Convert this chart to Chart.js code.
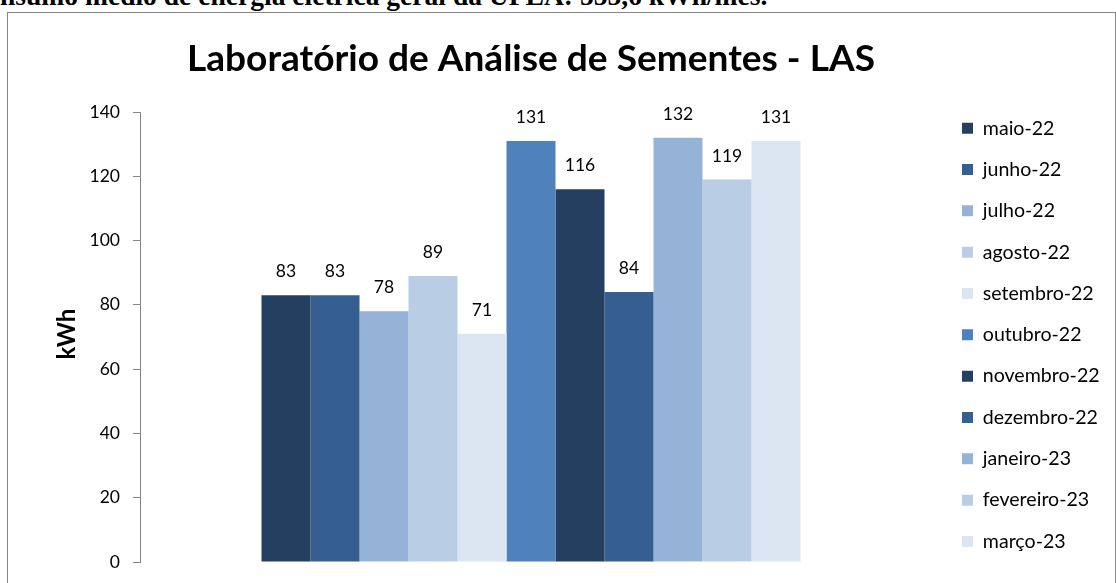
<!DOCTYPE html>
<html>
<head>
<meta charset="utf-8">
<script src="https://cdn.jsdelivr.net/npm/chart.js@4.4.0/dist/chart.umd.min.js"></script>
<style>
  html, body { margin: 0; padding: 0; background: #fff; overflow: hidden; }
  body { width: 1116px; height: 583px; position: relative; }
  #topline { position: absolute; left: 0; top: -18px; white-space: nowrap; line-height: 1; color: #000;
             font-weight: bold; font-family: "Liberation Serif", "Times New Roman", serif; font-size: 27px; }
  #frame { position: absolute; left: 7px; top: 12px; width: 1107px; height: 620px; border: 1px solid #878787; }
  #myChart { position: absolute; left: 0; top: 0; }
</style>
</head>
<body>
<div id="topline">nsumo médio de energia elétrica geral da UFLA: 555,6 kWh/mês.</div>
<div id="frame"><canvas id="myChart" width="1107" height="600"></canvas></div>
<script>
const months = [
    'maio-22', 'junho-22', 'julho-22', 'agosto-22', 'setembro-22', 'outubro-22',
    'novembro-22', 'dezembro-22', 'janeiro-23', 'fevereiro-23', 'março-23'
];
const consumo = [83, 83, 78, 89, 71, 131, 116, 84, 132, 119, 131];
const barColors = [
    '#243F60', '#365F91', '#95B3D7', '#B9CDE5', '#DCE6F2', '#4F81BD',
    '#243F60', '#365F91', '#95B3D7', '#B9CDE5', '#DCE6F2'
];
const yMin = 0;
const yMax = 140;
const yStep = 20;
const chartTitle = 'Laboratório de Análise de Sementes - LAS';
const yTitle = 'kWh';

const FAMILY = 'Lato';

// measure text to get font sizes close to the picture
const mctx = document.createElement('canvas').getContext('2d');
function textWidth(text, weight, size, family) {
    mctx.font = weight + ' ' + size + 'px ' + family;
    return mctx.measureText(text).width;
}
function fitSize(text, weight, target, family) {
    return 100 * target / textWidth(text, weight, 100, family || FAMILY);
}

// top caption (cut by the page edge)
const capEl = document.getElementById('topline');
const capSize = fitSize(capEl.textContent, 'bold', 768, '"Liberation Serif"');
capEl.style.fontSize = capSize + 'px';
capEl.style.top = (4.7 - 0.8375 * capSize) + 'px';

// layout targets, canvas coords
const W = 1107;
const area = {left: 132, right: 914, top: 99, bottom: 549};
const titleMid = 46;
const legendBoxX = 954;
const legendFirstMid = 115.2;
const legendRow = 41.33;
const yTitleX = 59;

const titleSize = fitSize(chartTitle, 'bold', 688);
const tickSize = 17.5;
const legendSize = fitSize('setembro-22', 'normal', 111);
const axisTitleSize = 24;

const titleLH = titleSize * 1.2;
const legendPad = legendRow - legendSize;
const legendTitleH = (legendFirstMid - legendSize / 2) - legendPad;
const legendLeft = legendBoxX - legendPad;
const maxText = Math.max(...months.map(m => textWidth(m, 'normal', legendSize, FAMILY)));
const legendW = legendPad + 11 + legendSize / 2 + maxText + 2;
const padRight = W - (legendLeft + legendW);
const y2Width = legendLeft - area.right;

const data = {
    labels: [''],
    datasets: months.map((m, i) => ({
        label: m,
        data: [consumo[i]],
        backgroundColor: barColors[i],
        borderWidth: 0,
        yAxisID: 'y',
        categoryPercentage: 539 / (area.right - area.left),
        barPercentage: 1
    }))
};

// value labels above bars + rotated y axis title
const valueLabels = {
    id: 'valueLabels',
    afterDatasetsDraw(chart) {
        const ctx = chart.ctx;
        ctx.save();
        ctx.font = tickSize + 'px ' + FAMILY;
        ctx.fillStyle = '#000';
        ctx.textAlign = 'center';
        ctx.textBaseline = 'middle';
        chart.data.datasets.forEach((ds, i) => {
            chart.getDatasetMeta(i).data.forEach((bar, j) => {
                ctx.fillText(ds.data[j], bar.x, bar.y - 23.5);
            });
        });
        const ys = chart.scales.y;
        ctx.translate(yTitleX, (ys.top + ys.bottom) / 2 - 3);
        ctx.rotate(-Math.PI / 2);
        ctx.font = 'bold ' + axisTitleSize + 'px ' + FAMILY;
        ctx.fillText(yTitle, 0, 0);
        ctx.restore();
    }
};

const config = {
    type: 'bar',
    data: data,
    options: {
        responsive: false,
        animation: false,
        layout: { padding: { left: 0, top: 0, bottom: 0, right: padRight } },
        scales: {
            x: {
                display: true,
                grid: { display: false },
                border: { display: false },
                ticks: { display: false },
                afterFit: s => { s.height = 600 - area.bottom; }
            },
            y: {
                min: yMin,
                max: yMax,
                ticks: {
                    stepSize: yStep,
                    color: '#000',
                    padding: 13,
                    font: { family: FAMILY, size: tickSize }
                },
                grid: { display: true, drawOnChartArea: false, drawTicks: true, tickLength: 7, color: '#868686' },
                border: { display: true, color: '#868686', width: 1 },
                afterFit: s => { s.width = area.left; }
            },
            y2: {
                position: 'right',
                display: true,
                grid: { display: false },
                border: { display: false },
                ticks: { display: false },
                afterFit: s => { s.width = y2Width; }
            }
        },
        plugins: {
            title: {
                display: true,
                text: chartTitle,
                fullSize: false,
                color: '#000',
                font: { family: FAMILY, size: titleSize, weight: 'bold' },
                padding: { top: titleMid - titleLH / 2, bottom: area.top - titleMid - titleLH / 2 }
            },
            legend: {
                position: 'right',
                align: 'start',
                maxWidth: legendW,
                title: {
                    display: true,
                    text: '',
                    font: { size: 10 },
                    padding: { top: legendTitleH - 12, bottom: 0 }
                },
                labels: {
                    boxWidth: 11,
                    boxHeight: 11,
                    padding: legendPad,
                    color: '#000',
                    font: { family: FAMILY, size: legendSize }
                }
            },
            tooltip: { enabled: false }
        }
    },
    plugins: [valueLabels]
};

const myChart = new Chart(
    document.getElementById('myChart'),
    config
);
</script>
</body>
</html>
